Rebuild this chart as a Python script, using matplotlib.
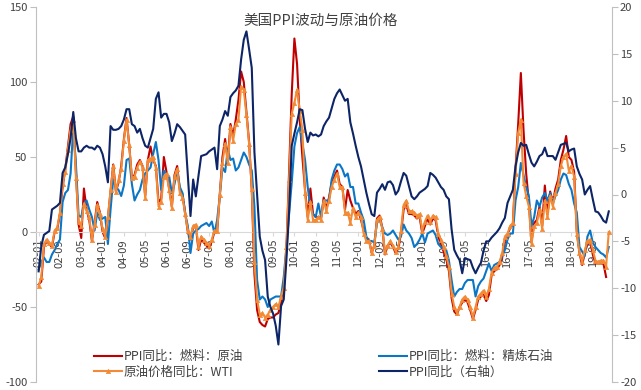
import numpy as np
import matplotlib
matplotlib.use("Agg")
import matplotlib.pyplot as plt

plt.rcParams['font.family'] = ['Noto Sans CJK SC', 'DejaVu Sans']
plt.rcParams['axes.unicode_minus'] = False

# monthly, 2002-01 .. 2019-11
crude_ppi = [
    -35, -33, -10, -6, -8, -10, 0, 2, 12, 30, 42, 57,
    72, 77, 40, 5, -4, 29, 15, 8, -6, 6, 20, 13,
    0, -4, 9, 27, 45, 27, 33, 44, 62, 76, 58, 36,
    38, 45, 48, 44, 24, 48, 57, 48, 44, 20, 22, 50,
    40, 29, 17, 38, 44, 28, 25, 13, 0, -5, 3, 4,
    -12, -5, -7, -9, -11, -6, 0, 0, 25, 50, 62, 48,
    72, 64, 75, 88, 107, 100, 80, 60, 28, -28, -52, -60,
    -62, -63, -58, -57, -57, -55, -54, -47, -40, -12, 40, 92,
    129, 112, 75, 50, 28, 10, 29, 12, 10, 10, 9, 23,
    16, 23, 33, 37, 41, 32, 30, 15, 28, 21, 16, 12,
    14, 8, 1, -4, -5, -14, -9, 9, 11, 3, -15, -9,
    -7, -10, -14, -11, -1, 15, 18, 12, 12, 11, 9, 10,
    -1, 4, 9, 5, 9, 8, -3, -8, -13, -18, -26, -44,
    -53, -55, -50, -47, -45, -47, -52, -58, -52, -45, -43, -42,
    -46, -42, -29, -26, -25, -22, -17, -6, -2, 3, 5, 42,
    72, 106, 68, 39, 20, -6, 6, 8, 17, 4, 31, 12,
    27, 20, 29, 35, 48, 55, 64, 50, 48, 40, 0, -14,
    -22, -14, -8, -6, -15, -21, -21, -21, -21, -30, np.nan,
]

refined_ppi = [
    -25, -20, -17, -20, -20, -15, -12, -8, -5, 20, 26, 28,
    39, 70, 45, 11, 10, 19, 21, 15, 10, 1, 13, 8,
    9, 10, -8, 15, 35, 30, 28, 24, 31, 48, 49, 32,
    21, 25, 28, 35, 39, 41, 43, 52, 60, 48, 28, 41,
    38, 37, 26, 32, 41, 30, 26, 12, 4, -14, -1, 1,
    2, 4, 5, 6, 4, 7, -1, 8, 24, 43, 40, 55,
    48, 49, 41, 43, 48, 53, 50, 45, 41, 17, -32, -45,
    -43, -45, -50, -45, -44, -43, -43, -43, -30, -10, 12, 33,
    57, 66, 70, 59, 48, 30, 17, 12, 10, 19, 10, 21,
    21, 21, 35, 41, 45, 45, 42, 37, 39, 30, 30, 19,
    19, 13, 8, -3, -6, -6, -7, 6, 8, 3, -1, -2,
    -1, 1, -2, -5, -3, 5, 1, -1, -4, -10, -8, -5,
    -1, -7, -1, 0, 1, -2, -8, -10, -11, -12, -19, -32,
    -43, -40, -38, -38, -34, -32, -32, -32, -43, -36, -33, -31,
    -26, -21, -26, -22, -21, -20, -16, -12, -5, -1, -1, 21,
    30, 46, 38, 30, 24, 4, 10, 21, 17, 23, 26, 21,
    26, 19, 24, 28, 35, 39, 38, 32, 28, 19, 13, -10,
    -13, -16, -3, 1, -7, -10, -12, -14, -15, -17, -10,
]

wti_yoy = [
    -36, -30, -8, -5, -7, -9, 1, 3, 13, 32, 40, 55,
    68, 75, 36, 7, 4, 19, 14, 10, -5, 5, 18, 12,
    2, -3, 10, 28, 44, 27, 35, 42, 61, 75, 58, 36,
    37, 43, 47, 43, 23, 48, 49, 50, 43, 17, 20, 37,
    39, 28, 16, 37, 42, 26, 23, 12, 1, -3, 4, 5,
    -10, -3, -5, -7, -9, -5, 1, 1, 25, 46, 59, 46,
    70, 61, 72, 75, 97, 95, 78, 59, 29, -20, -45, -55,
    -54, -57, -55, -52, -50, -48, -50, -43, -37, -10, 35, 79,
    86, 95, 81, 68, 26, 8, 20, 8, 8, 10, 8, 21,
    14, 21, 30, 35, 39, 30, 30, 13, 13, 6, 16, 10,
    13, 10, -1, -6, -6, -14, -9, 8, 10, 2, -13, -9,
    -6, -9, -13, -10, 1, 18, 21, 14, 14, 13, 11, 12,
    1, 7, 11, 7, 11, 10, -1, -5, -10, -16, -23, -41,
    -50, -54, -50, -45, -43, -45, -50, -57, -50, -43, -41, -39,
    -43, -38, -27, -24, -23, -20, -14, -3, -1, 4, 6, 39,
    66, 75, 33, 24, 17, -8, 4, 6, 15, 2, 21, 10,
    24, 17, 26, 32, 44, 50, 52, 41, 44, 37, -1, -14,
    -20, -12, -6, -5, -12, -19, -20, -19, -19, -23, 0,
]

ppi_all = [
    -8.2, -5.5, -4.3, -4.1, -3.9, -1.6, -1.4, -1.2, -0.9, 2.3, 2.9, 4.3,
    6.0, 8.8, 6.0, 4.6, 4.6, 5.0, 5.2, 5.0, 5.0, 4.8, 5.2, 5.0,
    4.3, 3.0, 1.3, 7.3, 6.9, 6.9, 7.0, 7.3, 8.0, 9.1, 9.1, 7.5,
    7.3, 6.6, 7.0, 6.0, 5.2, 5.0, 6.0, 7.0, 10.2, 10.9, 8.2, 8.6,
    8.6, 7.7, 5.7, 6.5, 7.5, 7.2, 6.8, 6.4, 2.0, -2.3, 1.6, -0.2,
    2.0, 4.1, 4.2, 4.3, 4.6, 4.8, 5.0, 2.7, 7.3, 8.0, 8.9, 8.4,
    10.4, 10.8, 11.1, 11.6, 14.4, 16.5, 17.4, 15.5, 13.5, 4.5, 0.0, -4.5,
    -6.0, -7.0, -10.9, -12.0, -12.7, -14.0, -16.0, -11.9, -11.2, -7.0, -1.9, 5.2,
    6.5, 7.7, 9.1, 9.0, 7.0, 5.6, 6.6, 6.3, 6.4, 6.2, 6.4, 7.3,
    7.8, 8.2, 9.2, 10.2, 10.8, 11.2, 10.6, 10.0, 10.2, 7.7, 6.5, 5.2,
    4.0, 3.0, 1.6, 0.2, -1.0, -2.1, -2.3, 0.2, 0.6, 1.1, 0.5, 1.3,
    1.4, 1.0, 0.0, 0.4, 1.4, 2.3, 2.0, 0.9, -0.2, -0.5, -0.2, 0.2,
    0.4, 0.6, 0.9, 2.3, 2.1, 1.8, 1.3, 0.8, 0.5, -0.2, -0.5, -3.7,
    -5.9, -6.5, -7.0, -8.4, -6.8, -6.9, -7.0, -7.8, -8.4, -7.8, -7.3, -6.0,
    -5.0, -5.0, -4.6, -4.3, -4.0, -3.6, -3.0, -2.5, -0.9, -0.2, 0.5, 3.0,
    4.5, 5.5, 5.2, 5.3, 4.3, 3.4, 3.0, 3.5, 4.1, 4.3, 5.0, 4.1,
    4.1, 4.1, 3.7, 4.5, 5.3, 5.4, 5.5, 4.6, 4.8, 4.9, 3.0, 2.2,
    1.6, 0.0, 0.5, 0.9, -0.5, -1.8, -1.9, -2.3, -2.8, -3.0, -1.8,
]

tick_labels = ['02-01', '02-09', '03-05', '04-01', '04-09', '05-05', '06-01',
               '06-09', '07-05', '08-01', '08-09', '09-05', '10-01', '10-09',
               '11-05', '12-01', '12-09', '13-05', '14-01', '14-09', '15-05',
               '16-01', '16-09', '17-05', '18-01', '18-09', '19-05']

x = np.arange(len(ppi_all))
tick_pos = np.arange(len(tick_labels)) * 8

c_red = '#C00000'
c_blue = '#0B76C6'
c_orange = '#F28A36'
c_navy = '#0D2566'
c_text = '#404040'
c_axis = '#BFBFBF'

fig = plt.figure(figsize=(6.41, 3.9), dpi=100)
ax = fig.add_axes([35.7 / 641, 8 / 390, (611.7 - 35.7) / 641, (382.5 - 7.5) / 390])
ax2 = ax.twinx()

l1, = ax.plot(x, crude_ppi, color=c_red, lw=1.5, zorder=2)
l2, = ax.plot(x, refined_ppi, color=c_blue, lw=1.5, zorder=3)
l3, = ax.plot(x, wti_yoy, color=c_orange, lw=1.5, marker='^', ms=3.2,
              mec=c_orange, mew=0.4, zorder=4)
l4, = ax2.plot(x, ppi_all, color=c_navy, lw=1.5)

ax.set_xlim(-1.1, 215.1)
ax.set_ylim(-100, 150)
ax2.set_ylim(-20, 20)
ax.set_yticks([-100, -50, 0, 50, 100, 150])
ax2.set_yticks(np.arange(-20, 21, 5))
ax.set_xticks(tick_pos)
ax.set_xticklabels(tick_labels)

for s in ['top', 'right']:
    ax.spines[s].set_visible(False)
for s in ['top', 'left', 'bottom']:
    ax2.spines[s].set_visible(False)
ax.spines['bottom'].set_position(('data', 0))
ax.spines['bottom'].set_color('#D9D9D9')
ax.spines['left'].set_color(c_axis)
ax2.spines['right'].set_color(c_axis)

ax.tick_params(axis='y', length=4, color=c_axis, labelsize=8, labelcolor=c_text, pad=2)
ax2.tick_params(axis='y', length=4, color=c_axis, labelsize=8, labelcolor=c_text, pad=2)
ax.tick_params(axis='x', length=3, color='#D9D9D9', labelsize=8, labelcolor=c_text,
               pad=2, labelrotation=90)

fig.text(0.5, 1 - 20.5 / 390, '美国PPI波动与原油价格', ha='center', va='center',
         fontsize=10.5, color=c_text)

leg_kw = dict(loc='upper left', frameon=False, fontsize=9, handlelength=2.2,
              handletextpad=0.2, labelspacing=0.2, borderpad=0, borderaxespad=0,
              labelcolor=c_text)
fig.legend([l1, l3], ['PPI同比：燃料：原油', '原油价格同比：WTI'],
           bbox_to_anchor=(94 / 641, 1 - 350 / 390), **leg_kw)
fig.legend([l2, l4], ['PPI同比：燃料：精炼石油', 'PPI同比（右轴）'],
           bbox_to_anchor=(379 / 641, 1 - 350 / 390), **leg_kw)

fig.savefig('out.png', dpi=100)
